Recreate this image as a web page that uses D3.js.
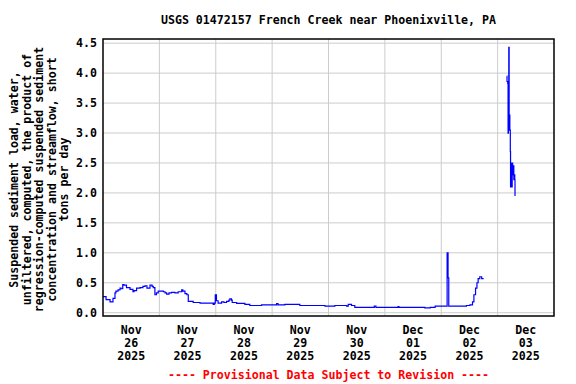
<!DOCTYPE html>
<html>
<head>
<meta charset="utf-8">
<script src="https://cdn.jsdelivr.net/npm/d3@7"></script>
<style>
  body { margin: 0; background: #fff; }
  text { font-family: "DejaVu Sans Mono", monospace; font-weight: bold; font-size: 11.6px; }
</style>
</head>
<body>
<div id="chart"></div>
<script>
// 1: DATA (hours since 2025-11-26 00:00, tons per day; null = gap)
const startDate = new Date(2025, 10, 26, 0, 0);
const endDate = new Date(2025, 11, 4, 0, 0);

const hours = [
    0, 1.3, 3, 4.25, 5.1, 5.5, 6.4, 7.25, 7.7, 8.4, 8.9, 10, 11.5, 12.75, 13.2, 14.3,
    15.75, 17, 17.9, 18.7, 20, 20.9, 21.4, 22.1, 22.75, 23.5, 24.7, 25.7, 26.4, 27.1,
    28.1, 29.2, 30.6, 32, 33.5, 34, 34.9, 35.7, 36.3, 38.4, 41.3, 46.25, 46.9, 47.4,
    47.8, 48.3, 49, 50.5, 51.5, 52.6, 53.6, 54, 54.7, 55, 56.9, 60.4, 62.5, 67.5, 71.8,
    73.9, 74.5, 77.4, 81.7, 83.8, 90.2, 94.5, 98.7, 103.7, 104.4, 105.8, 107.2, 115,
    115.5, 116.2, 125, 125.6, 126, 136.3, 137, 139.3, 141.4, 146.2, 146.5, 146.9, 147.2,
    153.2, 154.7, 156.2, 157.3, 157.9, 158.6, 159.2, 159.7, 160.4, 161.2, 161.8,
    166,
    171.9, 172.0, 172.3, 172.45, 172.6, 172.75, 172.9, 173.05, 173.2, 173.4, 173.5,
    173.8, 173.9, 174.2, 174.4, 174.6, 174.9, 175.0, 175.3, 175.4
];

const load = [
    0.27, 0.22, 0.18, 0.24, 0.33, 0.36, 0.38, 0.41, 0.40, 0.47, 0.46, 0.42, 0.39, 0.35, 0.37, 0.41,
    0.42, 0.44, 0.45, 0.41, 0.46, 0.44, 0.42, 0.30, 0.33, 0.36, 0.36, 0.35, 0.33, 0.31,
    0.33, 0.34, 0.33, 0.35, 0.38, 0.36, 0.32, 0.30, 0.19, 0.17, 0.16, 0.16, 0.14, 0.16,
    0.30, 0.20, 0.16, 0.18, 0.17, 0.19, 0.21, 0.23, 0.21, 0.17, 0.155, 0.14, 0.12, 0.13, 0.13,
    0.15, 0.13, 0.14, 0.14, 0.12, 0.12, 0.11, 0.12, 0.11, 0.14, 0.12, 0.09, 0.09,
    0.11, 0.09, 0.09, 0.10, 0.09, 0.09, 0.08, 0.09, 0.11, 0.11, 1.00, 0.58, 0.11,
    0.11, 0.12, 0.13, 0.18, 0.30, 0.41, 0.50, 0.57, 0.60, 0.57, 0.58,
    null,
    3.95, 3.86, 3.83, 3.00, 3.50, 4.43, 3.05, 3.30, 3.05, 2.69, 2.10,
    2.50, 2.10, 2.50, 2.30, 2.45, 2.22, 2.30, 2.22, 1.95
];

const yTicks = [0, 0.5, 1, 1.5, 2, 2.5, 3, 3.5, 4, 4.5];
const dayLabels = [
    ["Nov", "26", "2025"], ["Nov", "27", "2025"], ["Nov", "28", "2025"], ["Nov", "29", "2025"],
    ["Nov", "30", "2025"], ["Dec", "01", "2025"], ["Dec", "02", "2025"], ["Dec", "03", "2025"]
];
const yLabelLines = [
    "Suspended sediment load, water,",
    "unfiltered, computed, the product of",
    "regression-computed suspended sediment",
    "concentration and streamflow, short",
    "tons per day"
];

const data = hours.map((h, i) => ({ date: d3.timeMinute.offset(startDate, Math.round(h * 60)), value: load[i] }));

// 2: SVG
const margin = { top: 39, right: 22, bottom: 68, left: 103 };
const width = 576 - margin.left - margin.right;
const height = 384 - margin.top - margin.bottom;

const svgRoot = d3.select("#chart").append("svg")
    .attr("width", 576)
    .attr("height", 384);

svgRoot.append("rect").attr("width", 576).attr("height", 384).attr("fill", "#fff");

const svg = svgRoot.append("g")
    .attr("transform", `translate(${margin.left},${margin.top})`);

// 3: SCALES
const xScale = d3.scaleTime().domain([startDate, endDate]).range([0, width]);
const yScale = d3.scaleLinear().domain([-0.055, 4.57]).range([height, 0]);

// 4: GRID
const days = d3.timeDay.range(d3.timeDay.offset(startDate, 1), endDate);
svg.append("g").selectAll("line")
    .data(days)
    .enter().append("line")
    .attr("x1", d => xScale(d)).attr("x2", d => xScale(d))
    .attr("y1", 0).attr("y2", height)
    .attr("stroke", "#cccccc").attr("stroke-width", 1);

svg.append("g").selectAll("line")
    .data(yTicks)
    .enter().append("line")
    .attr("x1", 0).attr("x2", width)
    .attr("y1", d => yScale(d)).attr("y2", d => yScale(d))
    .attr("stroke", "#cccccc").attr("stroke-width", 1);

// 5: DATA LINE
const line = d3.line()
    .defined(d => d.value !== null)
    .x(d => xScale(d.date))
    .y(d => yScale(d.value))
    .curve(d3.curveStepAfter);

svg.append("path")
    .datum(data)
    .attr("d", line)
    .attr("fill", "none")
    .attr("stroke", "#0000ff")
    .attr("stroke-width", 1.2);

// frame
svg.append("rect")
    .attr("width", width).attr("height", height)
    .attr("fill", "none").attr("stroke", "#000").attr("stroke-width", 1.5);

// 6: AXES LABELS
svg.append("g").selectAll("text")
    .data(yTicks)
    .enter().append("text")
    .attr("x", -6)
    .attr("y", d => yScale(d))
    .attr("dy", "0.35em")
    .attr("text-anchor", "end")
    .text(d => d.toFixed(1));

const xl = svg.append("g").selectAll("text")
    .data(dayLabels)
    .enter().append("text")
    .attr("text-anchor", "middle")
    .attr("transform", (d, i) => `translate(${xScale(d3.timeHour.offset(startDate, i * 24 + 12))},${height + 18})`);

xl.selectAll("tspan")
    .data(d => d)
    .enter().append("tspan")
    .attr("x", 0)
    .attr("y", (d, i) => i * 13)
    .text(d => d);

svgRoot.append("text")
    .attr("x", margin.left + width / 2)
    .attr("y", 24)
    .attr("text-anchor", "middle")
    .text("USGS 01472157 French Creek near Phoenixville, PA");

svgRoot.selectAll(".ylab")
    .data(yLabelLines)
    .enter().append("text")
    .attr("class", "ylab")
    .attr("text-anchor", "middle")
    .attr("dy", "0.35em")
    .attr("transform", (d, i) => `translate(${14 + i * 12.5},${margin.top + height / 2 + 2}) rotate(-90)`)
    .text(d => d);

svgRoot.append("text")
    .attr("x", margin.left + width / 2)
    .attr("y", 379)
    .attr("text-anchor", "middle")
    .attr("fill", "#ff0000")
    .text("---- Provisional Data Subject to Revision ----");
</script>
</body>
</html>
